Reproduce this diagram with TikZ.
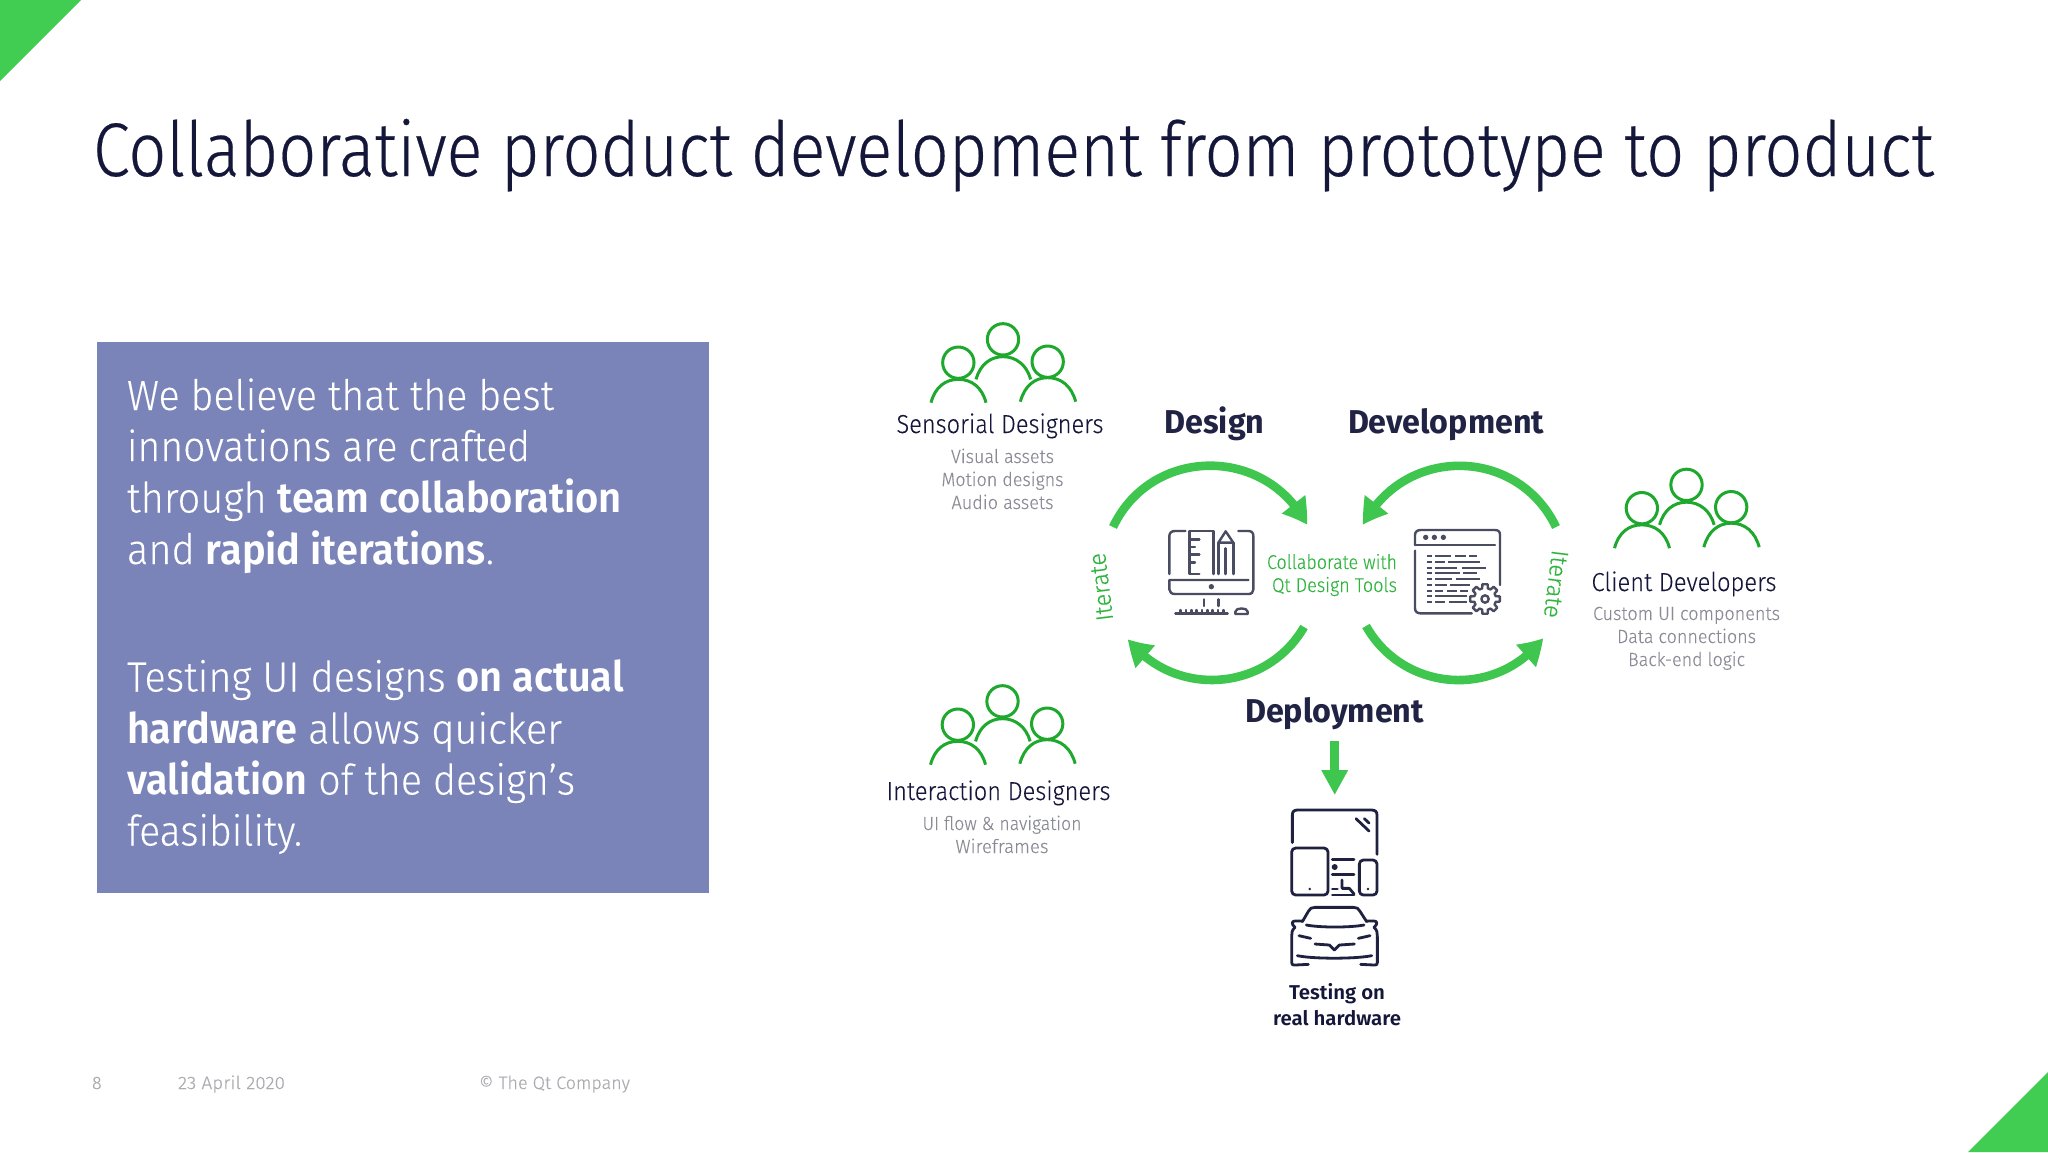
\documentclass[tikz,border=0pt]{standalone}
\usepackage{fontspec}
\usepackage{graphicx}
\usetikzlibrary{arrows.meta,bending}
\setmainfont{Fira Sans Light}[BoldFont=Fira Sans SemiBold,UprightFeatures={FakeBold=0.15}]
\newfontfamily\titlefont{Fira Sans Light}[UprightFeatures={FakeBold=0.3}]
\newfontfamily\phasefont{Fira Sans}[BoldFont=Fira Sans Bold]
\definecolor{qtgreen}{HTML}{41CD52}
\definecolor{flowgreen}{HTML}{3FC64F}
\definecolor{peoplegreen}{HTML}{1FA82E}
\definecolor{textgreen}{HTML}{2FB53E}
\definecolor{navy}{HTML}{14173A}
\definecolor{boxblue}{HTML}{7A84B8}
\definecolor{subgrey}{HTML}{8A8B96}
\definecolor{footgrey}{HTML}{ABABB0}
\definecolor{icongrey}{HTML}{4A4C62}
\definecolor{icondark}{HTML}{1E2140}
\newcommand{\fitw}[2]{\resizebox{#1\dimexpr0.5pt\relax}{\height}{#2}}
\tikzset{
  lbl/.style={inner sep=0pt,outer sep=0pt,anchor=base},
  lblleft/.style={inner sep=0pt,outer sep=0pt,anchor=base west},
  titletext/.style={lblleft,text=navy,font=\fontsize{38}{40}\selectfont\titlefont},
  boxtext/.style={lblleft,text=white,font=\fontsize{21}{24}\selectfont},
  roletext/.style={lbl,text=navy,font=\fontsize{13}{15}\selectfont},
  subtext/.style={lbl,text=subgrey,font=\fontsize{9.5}{11}\selectfont},
  phasetext/.style={lbl,text=navy!95!white,font=\fontsize{16.5}{18}\selectfont\phasefont\bfseries},
  greentext/.style={inner sep=0pt,outer sep=0pt,anchor=base east,text=textgreen,font=\fontsize{10}{12}\selectfont},
  itertext/.style={inner sep=0pt,outer sep=0pt,text=textgreen,font=\fontsize{12}{14}\selectfont},
  hwtext/.style={lbl,text=navy,font=\fontsize{10}{12}\selectfont\bfseries},
  foottext/.style={lblleft,text=footgrey,font=\fontsize{9}{11}\selectfont},
  flow/.style={draw=flowgreen,line width=4.3pt,-{Triangle[length=12.5pt,width=14pt,bend]}},
  deploy/.style={draw=flowgreen,line width=4.3pt,-{Triangle[length=12.5pt,width=12.5pt]}},
  zoomunits/.style={x=0.16667pt,y=-0.16667pt},
  peopleline/.style={draw=peoplegreen,line width=1.5pt},
  devline/.style={draw=icondark,line width=1.4pt,line cap=round,line join=round},
  greyline/.style={draw=icongrey,line width=1.2pt,line cap=round,line join=round},
  pics/peopleicon/.style={code={
    \begin{scope}[zoomunits,peopleline]
      \draw (369,118) circle[radius=47];
      \draw (235,188) circle[radius=47];
      \draw (503,185) circle[radius=47];
      \draw (288,238) .. controls (300,195) and (330,170) .. (369,170) .. controls (408,170) and (440,195) .. (452,238);
      \draw (153,308) .. controls (165,262) and (195,238) .. (235,238) .. controls (275,238) and (306,262) .. (318,308);
      \draw (421,305) .. controls (433,259) and (463,233) .. (503,233) .. controls (544,233) and (575,259) .. (587,305);
    \end{scope}}},
}
\begin{document}
\begin{tikzpicture}[x=0.5pt,y=-0.5pt]
\useasboundingbox (0,0) rectangle (2048,1152);
\fill[white] (0,0) rectangle (2048,1152);
% corners
\fill[qtgreen] (0,0) -- (81,0) -- (0,81) -- cycle;
\fill[qtgreen] (2048,1072) -- (2048,1152) -- (1968,1152) -- cycle;
% title
\node[titletext] (title) at (93,176) {\fitw{1841}{Collaborative product development from prototype to product}};
% blue box
\fill[boxblue] (97,341.5) rectangle (709,893);
\node[boxtext] (b1) at (127,410) {\fitw{427}{We believe that the best}};
\node[boxtext] (b2) at (127,461) {\fitw{403}{innovations are crafted}};
\node[boxtext] (b3) at (127,512.5) {\fitw{495}{through \textbf{team collaboration}}};
\node[boxtext] (b4) at (127,564) {\fitw{367}{and \textbf{rapid iterations}.}};
\node[boxtext] (b5) at (127,691.5) {\fitw{497}{Testing UI designs \textbf{on actual}}};
\node[boxtext] (b6) at (127,743.5) {\fitw{435}{\textbf{hardware} allows quicker}};
\node[boxtext] (b7) at (127,794.5) {\fitw{448}{\textbf{validation} of the design’s}};
\node[boxtext] (b8) at (127,845.5) {\fitw{175}{feasibility.}};
% people
\pic (sens) at (880,300) {peopleicon};
\pic (client) at (1563.5,445.5) {peopleicon};
\pic (inter) at (879.5,662) {peopleicon};
\node[roletext] (sensname) at (1000,433) {\fitw{207}{Sensorial Designers}};
\node[subtext] (s1) at (1002.5,463) {\fitw{103}{Visual assets}};
\node[subtext] (s2) at (1002.5,486) {\fitw{122}{Motion designs}};
\node[subtext] (s3) at (1002.5,509) {\fitw{102}{Audio assets}};
\node[roletext] (clientname) at (1684,591) {\fitw{185}{Client Developers}};
\node[subtext] (c1) at (1686.5,620) {\fitw{187}{Custom UI components}};
\node[subtext] (c2) at (1686.5,643) {\fitw{139}{Data connections}};
\node[subtext] (c3) at (1686.5,666) {\fitw{117}{Back-end logic}};
\node[roletext] (intername) at (998.5,800) {\fitw{224}{Interaction Designers}};
\node[subtext] (i1) at (1002,830) {\fitw{159}{UI flow \& navigation}};
\node[subtext] (i2) at (1002,853) {\fitw{93}{Wireframes}};
% phases
\node[phasetext] (design) at (1214.5,433) {\fitw{100}{Design}};
\node[phasetext] (develop) at (1446,433) {\fitw{196}{Development}};
\node[phasetext] (deployment) at (1334.5,722) {\fitw{179}{Deployment}};
% arcs
\coordinate (tlS) at (1113,527); \coordinate (tlT) at (1307,525);
\coordinate (trS) at (1556,527); \coordinate (trT) at (1363,525);
\coordinate (blS) at (1304,627); \coordinate (blT) at (1128,639);
\coordinate (brS) at (1366,626); \coordinate (brT) at (1543,638);
\draw[flow] (tlS) .. controls (1151.4,446) and (1266.3,445.2) .. (tlT);
\draw[flow] (trS) .. controls (1517.3,446.2) and (1404.1,445.3) .. (trT);
\draw[flow] (blS) .. controls (1266.4,692.1) and (1174,698.5) .. (blT);
\draw[flow] (brS) .. controls (1403.6,692.5) and (1497,699) .. (brT);
\node[itertext,rotate=97] (iterL) at (1101,587) {\fitw{68}{Iterate}};
\node[itertext,rotate=-97] (iterR) at (1556,584) {\fitw{68}{Iterate}};
\node[greentext] (col1) at (1397,569) {\fitw{130}{Collaborate with}};
\node[greentext] (col2) at (1397,592) {\fitw{125}{Qt Design Tools}};
% deploy arrow
\coordinate (depS) at (1334.7,741); \coordinate (depT) at (1334.7,795);
\draw[deploy] (depS) -- (depT);
% design icon
\begin{scope}[shift={(1080,400)},zoomunits,greyline]
  \draw (268,522) -- (268,408) .. controls (268,398) and (275,393) .. (285,393) -- (316,393);
  \draw (475,393) -- (505,393) .. controls (515,393) and (520,398) .. (520,408) -- (520,568) .. controls (520,577) and (515,582) .. (505,582) -- (285,582) .. controls (275,582) and (268,577) .. (268,568) -- (268,540) -- (505,540);
  \draw (358,522) -- (328,522) -- (328,393) -- (400,393) -- (400,522);
  \draw (328,418) -- (358,418) (328,441) -- (345,441) (328,464) -- (358,464) (328,487) -- (345,487);
  \draw (415,428) -- (437,394) -- (460,428) -- cycle;
  \draw (415,428) -- (415,522) (437,445) -- (437,522) (460,428) -- (460,522);
  \fill[icongrey,draw=none] (394,560) circle[radius=8];
  \draw (372,598) -- (372,618) (415,598) -- (415,618);
  \draw (286,641) -- (443,641);
  \foreach \t in {302,318,334,350,366,382,398,414,430} {\draw (\t,641) -- (\t,630);}
  \draw (466,642) -- (466,635) .. controls (466,622) and (503,622) .. (503,635) -- (503,642) -- cycle;
\end{scope}
% code icon
\begin{scope}[shift={(1080,400)},zoomunits,greyline]
  \draw (1005,435) -- (1005,405) .. controls (1005,395) and (1012,390) .. (1022,390) -- (1245,390) .. controls (1255,390) and (1260,395) .. (1260,405) -- (1260,555);
  \draw (1005,435) -- (1245,435);
  \foreach \t in {1037,1063,1090} {\fill[icongrey,draw=none] (\t,412) circle[radius=8];}
  \draw (1005,452) -- (1005,625) .. controls (1005,635) and (1012,640) .. (1022,640) -- (1175,640);
  \begin{scope}[line width=1pt,line cap=butt]
    \draw (1040,467) -- (1055,467) (1065,467) -- (1112,467) (1125,467) -- (1158,467) (1168,467) -- (1192,467);
    \draw (1040,485) -- (1055,485) (1065,485) -- (1095,485) (1105,485) -- (1200,485);
    \draw (1040,503) -- (1055,503) (1065,503) -- (1132,503) (1145,503) -- (1218,503);
    \draw (1040,520) -- (1055,520) (1065,520) -- (1140,520) (1150,520) -- (1192,520);
    \draw (1040,538) -- (1055,538) (1065,538) -- (1115,538) (1128,538) -- (1200,538);
    \draw (1040,555) -- (1055,555) (1065,555) -- (1100,555) (1110,555) -- (1170,555);
    \draw (1040,572) -- (1055,572) (1065,572) -- (1090,572) (1100,572) -- (1130,572) (1140,572) -- (1165,572);
    \draw (1040,588) -- (1055,588) (1065,588) -- (1160,588);
    \draw (1040,605) -- (1055,605) (1065,605) -- (1095,605) (1108,605) -- (1160,605);
  \end{scope}
  \begin{scope}[shift={(1215,597)}]
    \filldraw[fill=white] (-15:33)
      \foreach \a in {0,45,...,315} { -- (\a-15:33) -- (\a-10:45) -- (\a+10:45) -- (\a+15:33) } -- cycle;
    \draw (0,0) circle[radius=11];
  \end{scope}
\end{scope}
% devices icon
\begin{scope}[shift={(1240,720)},zoomunits,devline]
  \draw (157,368) -- (157,285) .. controls (157,275) and (162,270) .. (172,270) -- (395,270) .. controls (405,270) and (411,275) .. (411,285) -- (411,403);
  \draw (348,296) -- (387,333) (373,296) -- (387,309);
  \draw[rounded corners=2pt] (155,384) rectangle (264,525);
  \draw[rounded corners=2pt] (358,420) rectangle (411,525);
  \fill[icondark,draw=none] (209,507) circle[radius=4] (384,507) circle[radius=4];
  \draw (277,419) -- (342,419) (277,464) -- (342,464) (277,507) -- (292,507) (277,525) -- (342,525);
  \fill[icondark,draw=none] (284,441) circle[radius=9];
  \draw (306,480) -- (306,505) -- (328,505) -- (342,522);
  % car
  \draw (187,605) -- (205,574) .. controls (209,565) and (215,562) .. (225,562) -- (340,562) .. controls (350,562) and (356,565) .. (360,574) -- (380,605);
  \draw (199,615) .. controls (240,623) and (330,623) .. (372,615);
  \draw (187,603) -- (165,603) .. controls (155,603) and (153,612) .. (165,622) .. controls (155,630) and (155,640) .. (155,650) -- (155,728) .. controls (155,735) and (158,735) .. (165,735) -- (205,733);
  \draw (380,603) -- (402,603) .. controls (412,603) and (414,612) .. (402,622) .. controls (412,630) and (412,640) .. (412,650) -- (412,728) .. controls (412,735) and (409,735) .. (402,735) -- (362,733);
  \draw (177,647) -- (212,655) (390,647) -- (355,655);
  \draw (225,672) -- (268,675) -- (283,690) -- (298,675) -- (343,672);
  \draw (172,707) .. controls (220,717) and (345,717) .. (395,707);
\end{scope}
\node[hwtext] (hw1) at (1337,999) {\fitw{96}{Testing on}};
\node[hwtext] (hw2) at (1337,1025) {\fitw{128}{real hardware}};
% footer
\node[foottext] (f1) at (92,1089) {8};
\node[foottext] (f2) at (178,1089) {\fitw{107}{23 April 2020}};
\node[foottext] (f3) at (479,1089) {\fitw{151}{© The Qt Company}};
\end{tikzpicture}
\end{document}
